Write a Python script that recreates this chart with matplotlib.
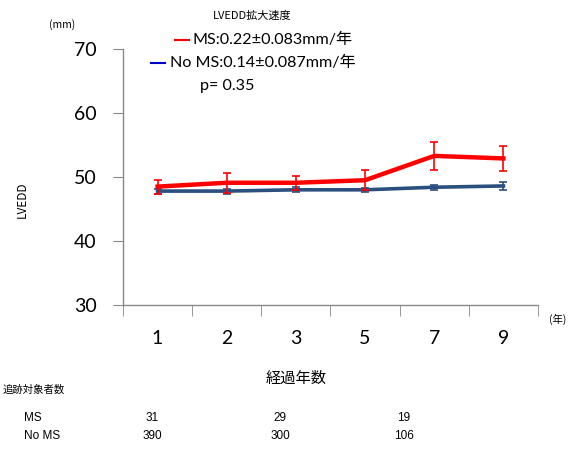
import matplotlib
matplotlib.use("Agg")
import matplotlib.pyplot as plt
import numpy as np

plt.rcParams['font.family'] = ['Noto Sans CJK JP', 'DejaVu Sans']

years = ['1', '2', '3', '5', '7', '9']
ms_mean = [48.5, 49.1, 49.1, 49.5, 53.3, 52.9]
ms_err = [1.1, 1.6, 1.1, 1.6, 2.2, 2.0]
noms_mean = [47.8, 47.8, 48.0, 48.0, 48.4, 48.6]
noms_err = [0.4, 0.4, 0.4, 0.3, 0.4, 0.65]
count_groups = ['MS', 'No MS']
ms_counts = ['31', '29', '19']
noms_counts = ['390', '300', '106']

W, H = 570, 454
fig = plt.figure(figsize=(W/100, H/100), dpi=100)
ax = fig.add_axes([123/W, 1-305/H, (538-123)/W, (305-49)/H])

x = np.arange(len(years))
ax.errorbar(x, noms_mean, yerr=noms_err, color='#2B4F7F', lw=2.6, capsize=3,
            elinewidth=1.2, capthick=1.2, zorder=3)
ax.errorbar(x, ms_mean, yerr=ms_err, color='#FF0000', lw=3.2, capsize=3,
            elinewidth=1.2, capthick=1.2, zorder=4)

ax.set_xlim(-0.5, len(years)-0.5)
ax.set_ylim(30, 70)
ax.set_yticks([30, 40, 50, 60, 70])
ax.set_xticks(x)
ax.set_xticklabels(years)
ax.set_xticks(np.arange(-0.5, len(years), 1.0), minor=True)
ax.tick_params(axis='x', which='major', length=0, pad=18, labelsize=14)
ax.tick_params(axis='x', which='minor', length=8, direction='out', color='#888888')
ax.tick_params(axis='y', length=7, direction='out', color='#888888', pad=12, labelsize=14)
for lab in ax.get_xticklabels() + ax.get_yticklabels():
    lab.set_family(['Lato', 'DejaVu Sans'])
for s in ['top', 'right']:
    ax.spines[s].set_visible(False)
for s in ['left', 'bottom']:
    ax.spines[s].set_color('#888888')
    ax.spines[s].set_linewidth(1.0)

fig.text(22/W, 1-200/H, 'LVEDD', fontsize=8.5, rotation=90, ha='center', va='center')

lfam = ['Lato', 'Noto Sans CJK JP', 'DejaVu Sans']
# header texts
fig.text(252/W, 1-16/H, 'LVEDD拡大速度', fontsize=8, ha='center', va='center')
fig.text(62/W, 1-25/H, '(mm)', fontsize=7.5, ha='center', va='center')
fig.add_artist(plt.Line2D([175/W, 189/W], [1-40/H, 1-40/H], color='#FF0000', lw=1.5))
fig.text(193/W, 1-40/H, 'MS:0.22±0.083mm/年', fontsize=11.6, ha='left', va='center', family=lfam)
fig.add_artist(plt.Line2D([151/W, 165/W], [1-63/H, 1-63/H], color='#0000CC', lw=1.5))
fig.text(170/W, 1-63/H, 'No MS:0.14±0.087mm/年', fontsize=11.6, ha='left', va='center', family=lfam)
fig.text(200/W, 1-86/H, 'p= 0.35', fontsize=11.6, ha='left', va='center', family=lfam)

fig.text(558/W, 1-319/H, '(年)', fontsize=7.5, ha='center', va='center')
fig.text(296/W, 1-378/H, '経過年数', fontsize=11, ha='center', va='center')
fig.text(3/W, 1-390/H, '追跡対象者数', fontsize=7.5, ha='left', va='center')

row_y = [418, 436]
col_x = [152, 280, 404]
for gi, (g, vals) in enumerate(zip(count_groups, [ms_counts, noms_counts])):
    fig.text(24/W, 1-row_y[gi]/H, g, fontsize=8.5, ha='left', va='center',
             family=['Liberation Sans', 'DejaVu Sans'])
    for cx, v in zip(col_x, vals):
        fig.text(cx/W, 1-row_y[gi]/H, v, fontsize=8.5, ha='center', va='center',
                 family=['Liberation Sans', 'DejaVu Sans'])

fig.savefig('out.png', dpi=100)
